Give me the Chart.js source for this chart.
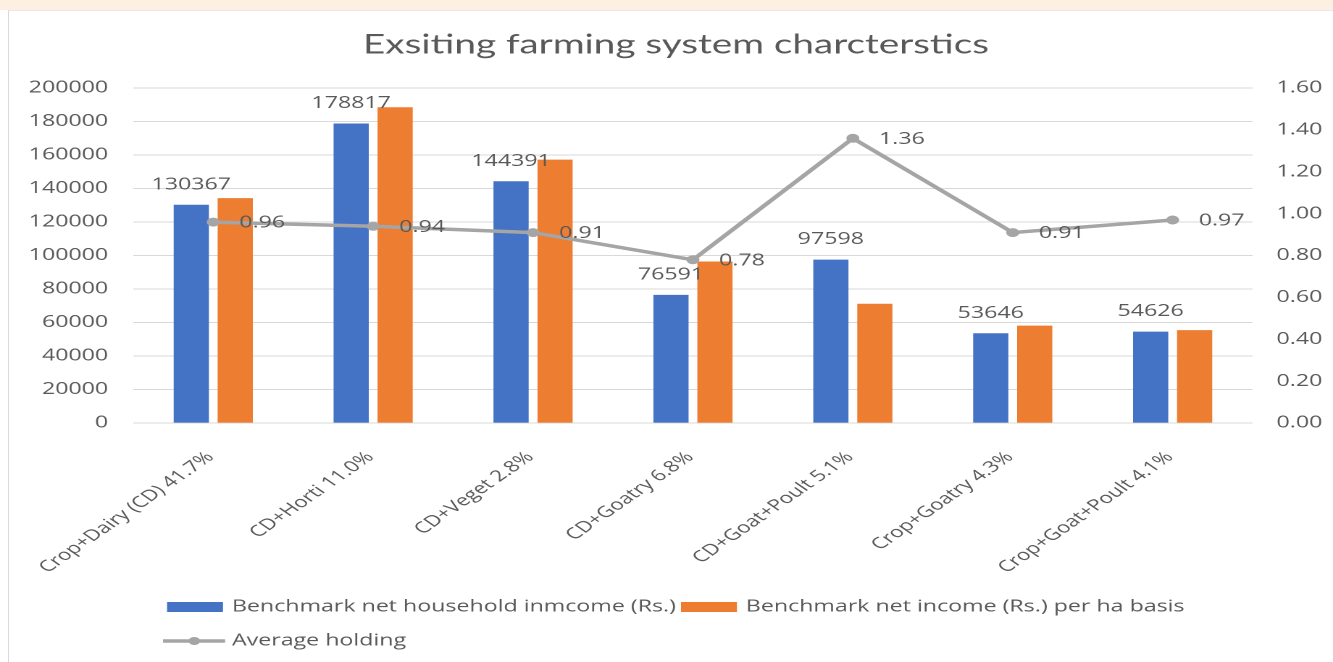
<!DOCTYPE html>
<html>
<head>
<meta charset="utf-8">
<title>Exsiting farming system charcterstics</title>
<script src="https://cdn.jsdelivr.net/npm/chart.js@4.4.1/dist/chart.umd.min.js"></script>
<style>
  html, body { margin: 0; padding: 0; background: #ffffff; }
  body { width: 1333px; height: 662px; overflow: hidden; position: relative; }
  #band { position: absolute; left: 0; top: 0; width: 1333px; height: 10px; background: #fdefe2; }
  #frame { position: absolute; left: 8px; top: 10px; width: 1340px; height: 660px;
           border-left: 1px solid #d9d9d9; border-top: 1px solid #e8e8e8; box-sizing: border-box; }
  /* the chart is laid out on a narrower canvas and widened to the page */
  #wrap { position: absolute; left: 0; top: 0; width: 920px; height: 662px;
          transform: scaleX(1.448913); transform-origin: 0 0; }
</style>
</head>
<body>
<div id="band"></div>
<div id="frame"></div>
<div id="wrap"><canvas id="chart"></canvas></div>
<script>
// Farming systems (share of households in the label)
const categories = [
  'Crop+Dairy (CD) 41.7%',
  'CD+Horti 11.0%',
  'CD+Veget 2.8%',
  'CD+Goatry 6.8%',
  'CD+Goat+Poult 5.1%',
  'Crop+Goatry 4.3%',
  'Crop+Goat+Poult 4.1%'
];

// Benchmark net household income (Rs.)
const householdIncome = [130367, 178817, 144391, 76591, 97598, 53646, 54626];
// Benchmark net income (Rs.) per ha basis
const incomePerHa = [134300, 188500, 157300, 96500, 71300, 58200, 55500];
// Average holding (ha)
const averageHolding = [0.96, 0.94, 0.91, 0.78, 1.36, 0.91, 0.97];

// Axis tick values
const incomeTicks = [0, 20000, 40000, 60000, 80000, 100000, 120000, 140000, 160000, 180000, 200000];
const holdingTicks = [0, 0.2, 0.4, 0.6, 0.8, 1.0, 1.2, 1.4, 1.6];

const seriesNames = [
  'Benchmark net household inmcome (Rs.)',
  'Benchmark net income (Rs.) per ha basis',
  'Average holding'
];

const TEXT = '#595959';
const FONT = '"Open Sans", "Noto Sans", sans-serif';

// Value labels: household income above the blue bars, holding to the right of each point
const valueLabels = {
  id: 'valueLabels',
  afterDatasetsDraw(chart) {
    const ctx = chart.ctx;
    ctx.save();
    ctx.font = '16px ' + FONT;
    ctx.fillStyle = TEXT;
    ctx.textBaseline = 'middle';

    ctx.textAlign = 'center';
    chart.getDatasetMeta(0).data.forEach((bar, i) => {
      ctx.fillText(String(householdIncome[i]), bar.x, bar.y - 20);
    });

    ctx.textAlign = 'left';
    chart.getDatasetMeta(2).data.forEach((pt, i) => {
      ctx.fillText(averageHolding[i].toFixed(2), pt.x + 18, pt.y + 1);
    });
    ctx.restore();
  }
};

// Legend under the category labels, rows aligned to the left
const bottomLegend = {
  id: 'bottomLegend',
  afterDraw(chart) {
    const ctx = chart.ctx;
    const ds = chart.data.datasets;
    ctx.save();
    ctx.font = '16px ' + FONT;
    ctx.textBaseline = 'middle';
    ctx.textAlign = 'left';

    const left = 115.3;
    const boxW = 38.6;
    const textGap = 6.2;

    // first row: the two bar series
    let x = left;
    const row1 = 607;
    [0, 1].forEach(i => {
      ctx.fillStyle = ds[i].backgroundColor;
      ctx.fillRect(x, row1 - 5, boxW, 10);
      ctx.fillStyle = TEXT;
      ctx.fillText(ds[i].label, x + boxW + textGap, row1);
      x += boxW + textGap + ctx.measureText(ds[i].label).width + 3.5;
    });

    // second row: the line series
    const row2 = 641;
    ctx.strokeStyle = ds[2].borderColor;
    ctx.lineWidth = 3.5;
    ctx.beginPath();
    ctx.moveTo(left - 2.8, row2);
    ctx.lineTo(left + boxW + 1.5, row2);
    ctx.stroke();
    ctx.fillStyle = ds[2].borderColor;
    ctx.beginPath();
    ctx.arc(left + boxW / 2 - 0.5, row2, 4, 0, Math.PI * 2);
    ctx.fill();
    ctx.fillStyle = TEXT;
    ctx.fillText(ds[2].label, left + boxW + textGap, row2);
    ctx.restore();
  }
};

function draw() {
  new Chart(document.getElementById('chart'), {
    data: {
      labels: categories,
      datasets: [
        {
          type: 'bar',
          label: seriesNames[0],
          data: householdIncome,
          backgroundColor: '#4472c4',
          yAxisID: 'yIncome',
          categoryPercentage: 0.55,
          barPercentage: 0.8,
          order: 1
        },
        {
          type: 'bar',
          label: seriesNames[1],
          data: incomePerHa,
          backgroundColor: '#ed7d31',
          yAxisID: 'yIncome',
          categoryPercentage: 0.55,
          barPercentage: 0.8,
          order: 1
        },
        {
          type: 'line',
          label: seriesNames[2],
          data: averageHolding,
          borderColor: '#a5a5a5',
          backgroundColor: '#a5a5a5',
          borderWidth: 3.5,
          pointRadius: 4.5,
          pointBackgroundColor: '#a5a5a5',
          pointBorderWidth: 0,
          tension: 0,
          yAxisID: 'yHolding',
          order: 0
        }
      ]
    },
    options: {
      responsive: true,
      maintainAspectRatio: false,
      animation: false,
      devicePixelRatio: 2,
      layout: { padding: { left: 20, right: 7, top: 0, bottom: 68 } },
      plugins: {
        legend: { display: false },
        tooltip: { enabled: false },
        title: {
          display: true,
          text: 'Exsiting farming system charcterstics',
          color: TEXT,
          font: { family: 'Lato, "Open Sans", sans-serif', size: 26.7, weight: 'normal' },
          padding: { top: 29, bottom: 27 }
        }
      },
      scales: {
        x: {
          grid: { display: false },
          border: { display: false },
          // the slanted labels may run past the plot edge; keep the plot width fixed
          afterFit: scale => { scale.paddingLeft = 0; scale.paddingRight = 0; },
          ticks: {
            color: TEXT,
            font: { family: FONT, size: 15.5 },
            minRotation: 45,
            maxRotation: 45,
            padding: 17,
            labelOffset: -2,
            autoSkip: false
          }
        },
        yIncome: {
          position: 'left',
          min: 0,
          max: 200000,
          afterBuildTicks: axis => { axis.ticks = incomeTicks.map(v => ({ value: v })); },
          // label width plus the gap to the plot
          afterFit: scale => { scale.width = 72; },
          grid: { color: '#d9d9d9', lineWidth: 1, drawTicks: false },
          border: { display: false },
          ticks: {
            color: TEXT,
            font: { family: FONT, size: 16 },
            padding: 17.3,
            callback: v => String(v)
          }
        },
        yHolding: {
          position: 'right',
          min: 0,
          max: 1.6,
          afterBuildTicks: axis => { axis.ticks = holdingTicks.map(v => ({ value: v })); },
          afterFit: scale => { scale.width = 48.5; },
          grid: { display: false, drawTicks: false },
          border: { display: false },
          ticks: {
            color: TEXT,
            font: { family: FONT, size: 16 },
            padding: 16.5,
            callback: v => Number(v).toFixed(2)
          }
        }
      }
    },
    plugins: [valueLabels, bottomLegend]
  });
}

Promise.all([
  document.fonts.load('16px "Open Sans"'),
  document.fonts.load('27px Lato')
]).catch(() => {}).then(draw);
</script>
</body>
</html>
